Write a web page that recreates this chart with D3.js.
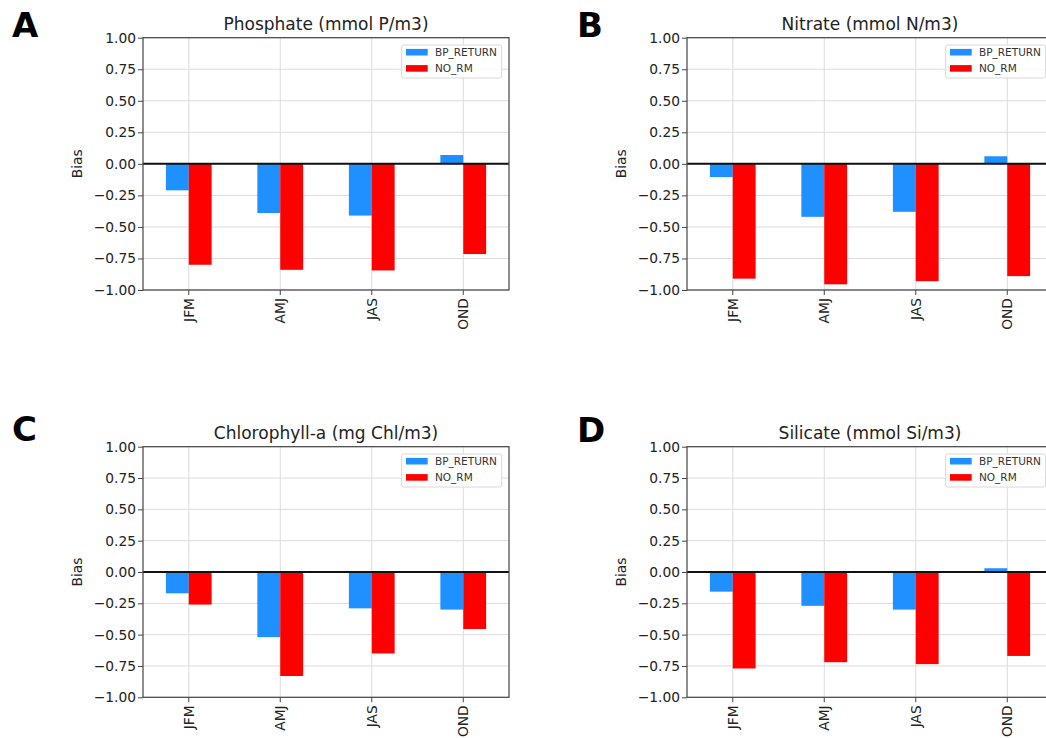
<!DOCTYPE html>
<html>
<head>
<meta charset="utf-8">
<script src="https://cdn.jsdelivr.net/npm/d3@7"></script>
<style>
  html, body { margin: 0; padding: 0; background: #fff; }
  svg { display: block; }
  text { font-family: "DejaVu Sans", sans-serif; }
</style>
</head>
<body>
<svg id="chart" width="1046" height="738"></svg>
<script>
// ---- data ----
const categories = ["JFM", "AMJ", "JAS", "OND"];
const seriesNames = ["BP_RETURN", "NO_RM"];
const panelLabels = ["A", "B", "C", "D"];
const panelTitles = ["Phosphate (mmol P/m3)", "Nitrate (mmol N/m3)", "Chlorophyll-a (mg Chl/m3)", "Silicate (mmol Si/m3)"];
const yTickValues = [1.00, 0.75, 0.50, 0.25, 0.00, -0.25, -0.50, -0.75, -1.00];

const phosphateBP = [-0.21, -0.39, -0.41, 0.07];
const phosphateNO = [-0.80, -0.84, -0.845, -0.715];
const nitrateBP = [-0.105, -0.42, -0.38, 0.06];
const nitrateNO = [-0.91, -0.955, -0.93, -0.89];
const chlorophyllBP = [-0.17, -0.52, -0.29, -0.30];
const chlorophyllNO = [-0.26, -0.83, -0.65, -0.455];
const silicateBP = [-0.157, -0.27, -0.30, 0.03];
const silicateNO = [-0.77, -0.72, -0.735, -0.67];

const panelData = [
  [phosphateBP, phosphateNO],
  [nitrateBP, nitrateNO],
  [chlorophyllBP, chlorophyllNO],
  [silicateBP, silicateNO]
];

// ---- layout ----
const colors = { "BP_RETURN": "#1e90ff", "NO_RM": "#ff0000" };
const plotW = 366;
const panelPos = [
  { left: 143, top: 37.7, h: 252.3, labelX: 12, labelY: 37 },
  { left: 687, top: 37.7, h: 252.3, labelX: 577, labelY: 37 },
  { left: 143, top: 446.7, h: 250.6, labelX: 12, labelY: 441 },
  { left: 687, top: 446.7, h: 250.6, labelX: 577, labelY: 442 }
];

const svg = d3.select("#chart");
const fmt = d3.format(".2f");

panelPos.forEach((p, i) => {
  const g = svg.append("g").attr("transform", `translate(${p.left},${p.top})`);
  const x = d3.scaleBand().domain(categories).range([0, plotW]).padding(0);
  const bw = x.bandwidth();
  const xs = d3.scaleBand().domain(seriesNames).range([bw * 0.25, bw * 0.75]).padding(0);
  const y = d3.scaleLinear().domain([-1, 1]).range([p.h, 0]);

  // grid
  g.append("g").selectAll("line.hg").data(yTickValues).join("line")
    .attr("x1", 0).attr("x2", plotW)
    .attr("y1", d => y(d)).attr("y2", d => y(d))
    .attr("stroke", "#dcdcdc").attr("stroke-width", 1);
  g.append("g").selectAll("line.vg").data(categories).join("line")
    .attr("x1", d => x(d) + bw / 2).attr("x2", d => x(d) + bw / 2)
    .attr("y1", 0).attr("y2", p.h)
    .attr("stroke", "#dcdcdc").attr("stroke-width", 1);

  // bars
  const rows = [];
  seriesNames.forEach((s, si) => {
    categories.forEach((c, ci) => rows.push({ s, c, v: panelData[i][si][ci] }));
  });
  g.append("g").selectAll("rect").data(rows).join("rect")
    .attr("x", d => x(d.c) + xs(d.s))
    .attr("width", xs.bandwidth())
    .attr("y", d => y(Math.max(0, d.v)))
    .attr("height", d => Math.abs(y(d.v) - y(0)))
    .attr("fill", d => colors[d.s]);

  // zero line
  g.append("line")
    .attr("x1", 0).attr("x2", plotW)
    .attr("y1", y(0)).attr("y2", y(0))
    .attr("stroke", "#111").attr("stroke-width", 2);

  // spines
  g.append("rect").attr("x", 0).attr("y", 0).attr("width", plotW).attr("height", p.h)
    .attr("fill", "none").attr("stroke", "#444").attr("stroke-width", 1.2);

  // y axis
  const yAxis = d3.axisLeft(y).tickValues(yTickValues).tickFormat(fmt).tickSize(5).tickPadding(2);
  const ya = g.append("g").call(yAxis);
  ya.select(".domain").remove();
  ya.selectAll(".tick line").attr("stroke", "#444");
  ya.selectAll(".tick text").attr("font-size", "13.8px").attr("fill", "#222")
    .attr("font-family", "DejaVu Sans, sans-serif");

  // x axis
  const xAxis = d3.axisBottom(x).tickSize(5).tickPadding(3);
  const xa = g.append("g").attr("transform", `translate(0,${p.h})`).call(xAxis);
  xa.select(".domain").remove();
  xa.selectAll(".tick line").attr("stroke", "#444");
  xa.selectAll(".tick text")
    .attr("font-size", "13.8px").attr("fill", "#222")
    .attr("font-family", "DejaVu Sans, sans-serif")
    .attr("transform", "rotate(-90)")
    .attr("text-anchor", "end")
    .attr("x", -8).attr("y", 0).attr("dy", "0.35em");

  // y label
  g.append("text")
    .attr("transform", `translate(${-61},${p.h / 2}) rotate(-90)`)
    .attr("text-anchor", "middle")
    .attr("font-size", "13.8px").attr("fill", "#222")
    .text("Bias");

  // title
  g.append("text")
    .attr("x", plotW / 2).attr("y", -8)
    .attr("text-anchor", "middle")
    .attr("font-size", "17px").attr("fill", "#222")
    .text(panelTitles[i]);

  // legend
  const lg = g.append("g").attr("transform", `translate(${plotW - 107.3},7.3)`);
  lg.append("rect").attr("width", 100).attr("height", 33).attr("rx", 2)
    .attr("fill", "#fff").attr("fill-opacity", 0.8)
    .attr("stroke", "#d8d8d8").attr("stroke-width", 1);
  seriesNames.forEach((s, si) => {
    const cy = 7.2 + si * 16.2;
    lg.append("rect").attr("x", 4.3).attr("y", cy - 3.3).attr("width", 21.7).attr("height", 6.6)
      .attr("fill", colors[s]);
    lg.append("text").attr("x", 33.3).attr("y", cy).attr("dy", "0.35em")
      .attr("font-size", "10.5px").attr("fill", "#333").text(s);
  });

  // panel label
  svg.append("text")
    .attr("x", p.labelX).attr("y", p.labelY)
    .attr("font-family", "Liberation Sans, Arial, sans-serif")
    .attr("font-weight", "bold").attr("font-size", "34px").attr("fill", "#000")
    .text(panelLabels[i]);
});
</script>
</body>
</html>
